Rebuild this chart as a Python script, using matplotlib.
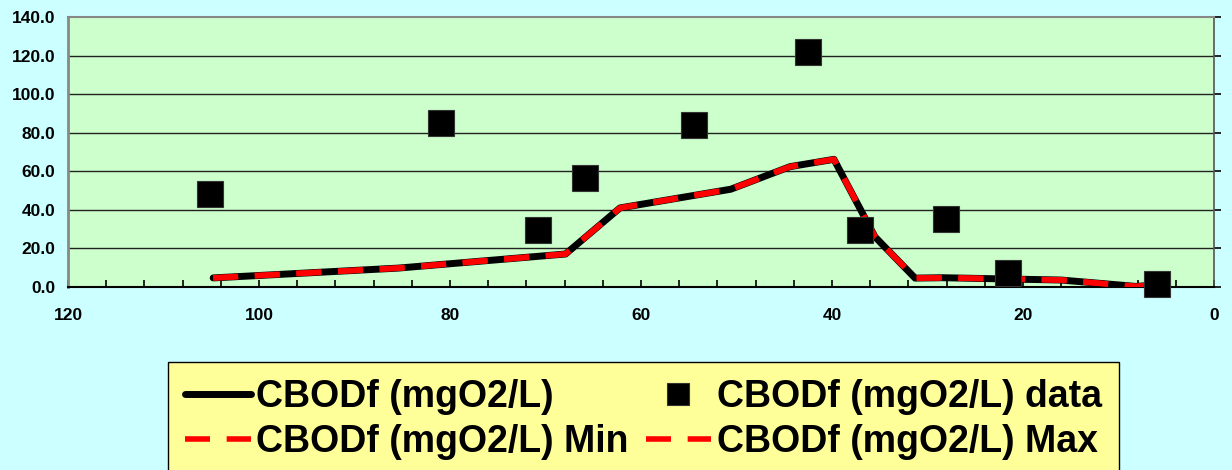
import matplotlib.pyplot as plt
from matplotlib.ticker import MultipleLocator, FormatStrFormatter

# model curve (distance, CBODf)
dist_model = [104.8, 85.4, 67.9, 62.2, 50.6, 44.4, 39.8, 35.5, 31.3, 28.4, 16.0, 8.2, 6.0]
cbod_model = [4.7, 9.8, 17.1, 41.0, 50.7, 62.4, 66.2, 26.0, 4.6, 4.8, 3.6, 0.3, 1.0]
cbod_min = [4.7, 9.8, 17.1, 41.0, 50.7, 62.4, 66.2, 26.0, 4.6, 4.8, 3.6, 0.3, 1.0]
cbod_max = [4.7, 9.8, 17.1, 41.0, 50.7, 62.4, 66.2, 26.0, 4.6, 4.8, 3.6, 0.3, 1.0]

# measured data
dist_data = [105.1, 80.9, 70.8, 65.9, 54.5, 42.5, 37.1, 28.1, 21.6, 6.0]
cbod_data = [48.2, 85.0, 29.5, 56.5, 84.0, 121.8, 29.5, 35.2, 7.3, 1.5]

labels = ["CBODf (mgO2/L)", "CBODf (mgO2/L) data",
          "CBODf (mgO2/L) Min", "CBODf (mgO2/L) Max"]

plt.rcParams['font.family'] = ['Liberation Sans', 'DejaVu Sans']
plt.rcParams['font.weight'] = 'bold'

fig = plt.figure(figsize=(12.32, 4.70), dpi=100)
fig.patch.set_facecolor("#CCFFFF")
ax = fig.add_axes([0.0552, 0.3894, 0.9302, 0.5744])
ax.set_facecolor("#CCFFCC")

ax.set_xlim(120, 0)
ax.set_ylim(0, 140)

for yv in range(20, 140, 20):
    ax.axhline(yv, color="#222222", lw=1.0, zorder=1)

l1, = ax.plot(dist_model, cbod_model, color="black", lw=5, solid_capstyle="round", zorder=3)
l3, = ax.plot(dist_model, cbod_min, color="red", lw=4, dashes=(4.5, 3), zorder=4)
l4, = ax.plot(dist_model, cbod_max, color="red", lw=4, dashes=(4.5, 3), zorder=4)
l2, = ax.plot(dist_data, cbod_data, ls="none", marker="s", ms=19, color="black",
              markeredgecolor="#333333", markeredgewidth=0.8, zorder=5, clip_on=False)

ax.xaxis.set_major_locator(MultipleLocator(20))
ax.xaxis.set_minor_locator(MultipleLocator(4))
ax.yaxis.set_major_locator(MultipleLocator(20))
ax.yaxis.set_major_formatter(FormatStrFormatter("%.1f"))

ax.tick_params(axis="x", which="both", direction="in", length=5, width=1.2,
               labelsize=12.5, pad=15, colors="black")
ax.tick_params(axis="y", which="both", left=False, right=True, direction="out",
               length=5, width=1.2, labelsize=12.5, pad=4)
for lab in ax.get_xticklabels() + ax.get_yticklabels():
    lab.set_fontweight("bold")

ax.spines["left"].set_color("#888888")
ax.spines["left"].set_linewidth(2)
ax.spines["top"].set_color("#888888")
ax.spines["top"].set_linewidth(1.5)
ax.spines["right"].set_color("#555555")
ax.spines["right"].set_linewidth(1.2)
ax.spines["bottom"].set_color("black")
ax.spines["bottom"].set_linewidth(1.5)

leg = fig.legend([l1, l3, l2, l4], [labels[0], labels[2], labels[1], labels[3]],
                 ncol=2, loc="upper left", bbox_to_anchor=(168 / 1232, 1 - 362 / 470),
                 borderaxespad=0,
                 prop={"weight": "bold", "size": 27}, frameon=True, fancybox=False,
                 facecolor="#FFFF99", edgecolor="black", framealpha=1,
                 handlelength=1.75, handletextpad=0.15, columnspacing=0.45,
                 borderpad=0.45, labelspacing=0.25, markerscale=0.8)
leg.get_frame().set_linewidth(1.0)

fig.savefig("out.png", dpi=100, facecolor=fig.get_facecolor())
